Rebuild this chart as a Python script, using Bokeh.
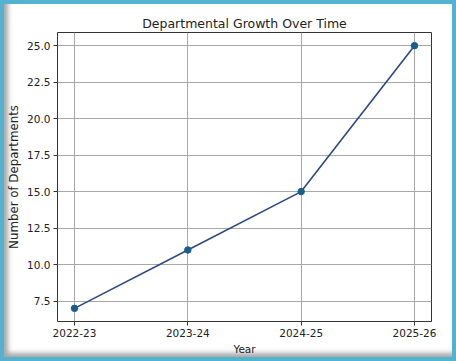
from bokeh.plotting import figure
from bokeh.models import FixedTicker, Column
from bokeh.embed import file_html
from bokeh.resources import INLINE

years = ["2022-23", "2023-24", "2024-25", "2025-26"]
departments = [7, 11, 15, 25]
y_ticks = [7.5, 10.0, 12.5, 15.0, 17.5, 20.0, 22.5, 25.0]

xs = list(range(len(years)))

p = figure(width=448, height=353, output_backend="svg", toolbar_location=None,
           x_range=(-0.15, 3.15), y_range=(6.1, 25.9),
           min_border_left=53, min_border_right=21, min_border_top=28, min_border_bottom=33,
           title="Departmental Growth Over Time")
p.border_fill_alpha = 0
p.background_fill_color = "white"
p.outline_line_color = "#333333"
p.outline_line_width = 1

p.title.text_font = "DejaVu Sans"
p.title.text_font_size = "12.5px"
p.title.text_font_style = "normal"
p.title.align = "center"
p.title.text_color = "#222222"
p.title.offset = 0
p.title.standoff = 4

p.line(xs, departments, line_color="#2b4a80", line_width=1.6)
p.scatter(xs, departments, size=6.5, fill_color="#1b5e8e", line_color="#1b5e8e")

p.xaxis.ticker = FixedTicker(ticks=xs)
p.xaxis.major_label_overrides = {i: y for i, y in enumerate(years)}
p.yaxis.ticker = FixedTicker(ticks=y_ticks)
p.yaxis.major_label_overrides = {t: f"{t:.1f}" for t in y_ticks}
p.xaxis.axis_label = "Year"
p.yaxis.axis_label = "Number of Departments"

for ax in (p.xaxis[0], p.yaxis[0]):
    ax.axis_line_color = None
    ax.major_tick_line_color = "#333333"
    ax.major_tick_in = 0
    ax.major_tick_out = 4
    ax.minor_tick_line_color = None
    ax.major_label_text_font = "DejaVu Sans"
    ax.major_label_text_font_size = "10.5px"
    ax.major_label_text_color = "#222222"
    ax.axis_label_text_font = "DejaVu Sans"
    ax.axis_label_text_font_style = "normal"
    ax.axis_label_text_color = "#222222"
    ax.major_label_standoff = 3

p.xaxis.axis_label_text_font_size = "10.5px"
p.xaxis.axis_label_standoff = 3
p.yaxis.axis_label_text_font_size = "11.8px"
p.yaxis.axis_label_standoff = 3

p.xgrid.grid_line_color = "#a8a8a8"
p.ygrid.grid_line_color = "#a8a8a8"
p.xgrid.grid_line_width = 1
p.ygrid.grid_line_width = 1

layout = Column(p, width=456, height=361, styles={
    "border": "4px solid #52b2cf",
    "box-shadow": "inset 4px -4px 5px rgba(0,0,0,0.35)",
    "background-color": "white",
})

open("out.html", "w").write(file_html(layout, INLINE))
